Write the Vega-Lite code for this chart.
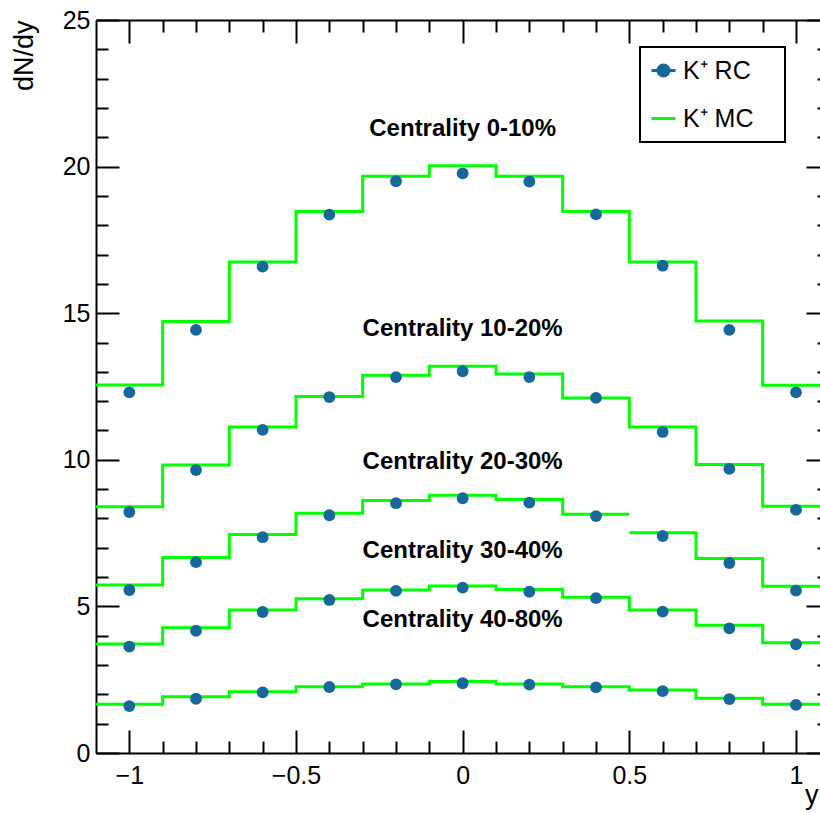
{
  "$schema": "https://vega.github.io/schema/vega-lite/v6.json",
  "width": 724,
  "height": 733,
  "autosize": {"type": "none"},
  "padding": {"left": 96, "top": 20, "right": 0, "bottom": 60},
  "background": "white",
  "config": {
    "view": {"stroke": null},
    "axis": {
      "grid": false,
      "domainColor": "black",
      "domainWidth": 2,
      "tickColor": "black",
      "tickWidth": 2,
      "labelFont": "Liberation Sans",
      "labelFontSize": 25,
      "labelColor": "black",
      "labelFlush": false,
      "titleFont": "Liberation Sans",
      "titleFontSize": 27,
      "titleFontWeight": "normal",
      "titleColor": "black"
    }
  },
  "datasets": {
    "mc": [
      {"seg": "0-10", "s": "K⁺ MC", "x": -1.1, "y": 12.55},
      {"seg": "0-10", "s": "K⁺ MC", "x": -0.9, "y": 14.72},
      {"seg": "0-10", "s": "K⁺ MC", "x": -0.7, "y": 16.75},
      {"seg": "0-10", "s": "K⁺ MC", "x": -0.5, "y": 18.47},
      {"seg": "0-10", "s": "K⁺ MC", "x": -0.3, "y": 19.67},
      {"seg": "0-10", "s": "K⁺ MC", "x": -0.1, "y": 20.03},
      {"seg": "0-10", "s": "K⁺ MC", "x": 0.1, "y": 19.67},
      {"seg": "0-10", "s": "K⁺ MC", "x": 0.3, "y": 18.47},
      {"seg": "0-10", "s": "K⁺ MC", "x": 0.5, "y": 16.75},
      {"seg": "0-10", "s": "K⁺ MC", "x": 0.7, "y": 14.73},
      {"seg": "0-10", "s": "K⁺ MC", "x": 0.9, "y": 12.54},
      {"seg": "0-10", "s": "K⁺ MC", "x": 1.1, "y": 12.54},

      {"seg": "10-20", "s": "K⁺ MC", "x": -1.1, "y": 8.40},
      {"seg": "10-20", "s": "K⁺ MC", "x": -0.9, "y": 9.82},
      {"seg": "10-20", "s": "K⁺ MC", "x": -0.7, "y": 11.12},
      {"seg": "10-20", "s": "K⁺ MC", "x": -0.5, "y": 12.16},
      {"seg": "10-20", "s": "K⁺ MC", "x": -0.3, "y": 12.88},
      {"seg": "10-20", "s": "K⁺ MC", "x": -0.1, "y": 13.19},
      {"seg": "10-20", "s": "K⁺ MC", "x": 0.1, "y": 12.93},
      {"seg": "10-20", "s": "K⁺ MC", "x": 0.3, "y": 12.11},
      {"seg": "10-20", "s": "K⁺ MC", "x": 0.5, "y": 11.12},
      {"seg": "10-20", "s": "K⁺ MC", "x": 0.7, "y": 9.84},
      {"seg": "10-20", "s": "K⁺ MC", "x": 0.9, "y": 8.42},
      {"seg": "10-20", "s": "K⁺ MC", "x": 1.1, "y": 8.42},

      {"seg": "20-30a", "s": "K⁺ MC", "x": -1.1, "y": 5.73},
      {"seg": "20-30a", "s": "K⁺ MC", "x": -0.9, "y": 6.67},
      {"seg": "20-30a", "s": "K⁺ MC", "x": -0.7, "y": 7.45},
      {"seg": "20-30a", "s": "K⁺ MC", "x": -0.5, "y": 8.18},
      {"seg": "20-30a", "s": "K⁺ MC", "x": -0.3, "y": 8.61},
      {"seg": "20-30a", "s": "K⁺ MC", "x": -0.1, "y": 8.79},
      {"seg": "20-30a", "s": "K⁺ MC", "x": 0.1, "y": 8.65},
      {"seg": "20-30a", "s": "K⁺ MC", "x": 0.3, "y": 8.14},
      {"seg": "20-30a", "s": "K⁺ MC", "x": 0.5, "y": 8.14},
      {"seg": "20-30b", "s": "K⁺ MC", "x": 0.5, "y": 7.51},
      {"seg": "20-30b", "s": "K⁺ MC", "x": 0.7, "y": 6.63},
      {"seg": "20-30b", "s": "K⁺ MC", "x": 0.9, "y": 5.69},
      {"seg": "20-30b", "s": "K⁺ MC", "x": 1.1, "y": 5.69},

      {"seg": "30-40", "s": "K⁺ MC", "x": -1.1, "y": 3.72},
      {"seg": "30-40", "s": "K⁺ MC", "x": -0.9, "y": 4.27},
      {"seg": "30-40", "s": "K⁺ MC", "x": -0.7, "y": 4.88},
      {"seg": "30-40", "s": "K⁺ MC", "x": -0.5, "y": 5.26},
      {"seg": "30-40", "s": "K⁺ MC", "x": -0.3, "y": 5.56},
      {"seg": "30-40", "s": "K⁺ MC", "x": -0.1, "y": 5.70},
      {"seg": "30-40", "s": "K⁺ MC", "x": 0.1, "y": 5.58},
      {"seg": "30-40", "s": "K⁺ MC", "x": 0.3, "y": 5.31},
      {"seg": "30-40", "s": "K⁺ MC", "x": 0.5, "y": 4.88},
      {"seg": "30-40", "s": "K⁺ MC", "x": 0.7, "y": 4.36},
      {"seg": "30-40", "s": "K⁺ MC", "x": 0.9, "y": 3.76},
      {"seg": "30-40", "s": "K⁺ MC", "x": 1.1, "y": 3.76},

      {"seg": "40-80", "s": "K⁺ MC", "x": -1.1, "y": 1.66},
      {"seg": "40-80", "s": "K⁺ MC", "x": -0.9, "y": 1.92},
      {"seg": "40-80", "s": "K⁺ MC", "x": -0.7, "y": 2.09},
      {"seg": "40-80", "s": "K⁺ MC", "x": -0.5, "y": 2.26},
      {"seg": "40-80", "s": "K⁺ MC", "x": -0.3, "y": 2.35},
      {"seg": "40-80", "s": "K⁺ MC", "x": -0.1, "y": 2.44},
      {"seg": "40-80", "s": "K⁺ MC", "x": 0.1, "y": 2.35},
      {"seg": "40-80", "s": "K⁺ MC", "x": 0.3, "y": 2.26},
      {"seg": "40-80", "s": "K⁺ MC", "x": 0.5, "y": 2.15},
      {"seg": "40-80", "s": "K⁺ MC", "x": 0.7, "y": 1.87},
      {"seg": "40-80", "s": "K⁺ MC", "x": 0.9, "y": 1.66},
      {"seg": "40-80", "s": "K⁺ MC", "x": 1.1, "y": 1.66}
    ],
    "rc": [
      {"c": "0-10", "s": "K⁺ RC", "x": -1.0, "y": 12.30},
      {"c": "0-10", "s": "K⁺ RC", "x": -0.8, "y": 14.43},
      {"c": "0-10", "s": "K⁺ RC", "x": -0.6, "y": 16.59},
      {"c": "0-10", "s": "K⁺ RC", "x": -0.4, "y": 18.36},
      {"c": "0-10", "s": "K⁺ RC", "x": -0.2, "y": 19.50},
      {"c": "0-10", "s": "K⁺ RC", "x": 0.0, "y": 19.77},
      {"c": "0-10", "s": "K⁺ RC", "x": 0.2, "y": 19.49},
      {"c": "0-10", "s": "K⁺ RC", "x": 0.4, "y": 18.37},
      {"c": "0-10", "s": "K⁺ RC", "x": 0.6, "y": 16.62},
      {"c": "0-10", "s": "K⁺ RC", "x": 0.8, "y": 14.43},
      {"c": "0-10", "s": "K⁺ RC", "x": 1.0, "y": 12.30},

      {"c": "10-20", "s": "K⁺ RC", "x": -1.0, "y": 8.22},
      {"c": "10-20", "s": "K⁺ RC", "x": -0.8, "y": 9.65},
      {"c": "10-20", "s": "K⁺ RC", "x": -0.6, "y": 11.02},
      {"c": "10-20", "s": "K⁺ RC", "x": -0.4, "y": 12.14},
      {"c": "10-20", "s": "K⁺ RC", "x": -0.2, "y": 12.82},
      {"c": "10-20", "s": "K⁺ RC", "x": 0.0, "y": 13.02},
      {"c": "10-20", "s": "K⁺ RC", "x": 0.2, "y": 12.82},
      {"c": "10-20", "s": "K⁺ RC", "x": 0.4, "y": 12.11},
      {"c": "10-20", "s": "K⁺ RC", "x": 0.6, "y": 10.95},
      {"c": "10-20", "s": "K⁺ RC", "x": 0.8, "y": 9.69},
      {"c": "10-20", "s": "K⁺ RC", "x": 1.0, "y": 8.29},

      {"c": "20-30", "s": "K⁺ RC", "x": -1.0, "y": 5.56},
      {"c": "20-30", "s": "K⁺ RC", "x": -0.8, "y": 6.51},
      {"c": "20-30", "s": "K⁺ RC", "x": -0.6, "y": 7.36},
      {"c": "20-30", "s": "K⁺ RC", "x": -0.4, "y": 8.11},
      {"c": "20-30", "s": "K⁺ RC", "x": -0.2, "y": 8.52},
      {"c": "20-30", "s": "K⁺ RC", "x": 0.0, "y": 8.69},
      {"c": "20-30", "s": "K⁺ RC", "x": 0.2, "y": 8.54},
      {"c": "20-30", "s": "K⁺ RC", "x": 0.4, "y": 8.08},
      {"c": "20-30", "s": "K⁺ RC", "x": 0.6, "y": 7.40},
      {"c": "20-30", "s": "K⁺ RC", "x": 0.8, "y": 6.48},
      {"c": "20-30", "s": "K⁺ RC", "x": 1.0, "y": 5.54},

      {"c": "30-40", "s": "K⁺ RC", "x": -1.0, "y": 3.63},
      {"c": "30-40", "s": "K⁺ RC", "x": -0.8, "y": 4.17},
      {"c": "30-40", "s": "K⁺ RC", "x": -0.6, "y": 4.81},
      {"c": "30-40", "s": "K⁺ RC", "x": -0.4, "y": 5.22},
      {"c": "30-40", "s": "K⁺ RC", "x": -0.2, "y": 5.53},
      {"c": "30-40", "s": "K⁺ RC", "x": 0.0, "y": 5.64},
      {"c": "30-40", "s": "K⁺ RC", "x": 0.2, "y": 5.50},
      {"c": "30-40", "s": "K⁺ RC", "x": 0.4, "y": 5.28},
      {"c": "30-40", "s": "K⁺ RC", "x": 0.6, "y": 4.82},
      {"c": "30-40", "s": "K⁺ RC", "x": 0.8, "y": 4.25},
      {"c": "30-40", "s": "K⁺ RC", "x": 1.0, "y": 3.71},

      {"c": "40-80", "s": "K⁺ RC", "x": -1.0, "y": 1.60},
      {"c": "40-80", "s": "K⁺ RC", "x": -0.8, "y": 1.85},
      {"c": "40-80", "s": "K⁺ RC", "x": -0.6, "y": 2.07},
      {"c": "40-80", "s": "K⁺ RC", "x": -0.4, "y": 2.25},
      {"c": "40-80", "s": "K⁺ RC", "x": -0.2, "y": 2.34},
      {"c": "40-80", "s": "K⁺ RC", "x": 0.0, "y": 2.38},
      {"c": "40-80", "s": "K⁺ RC", "x": 0.2, "y": 2.33},
      {"c": "40-80", "s": "K⁺ RC", "x": 0.4, "y": 2.24},
      {"c": "40-80", "s": "K⁺ RC", "x": 0.6, "y": 2.11},
      {"c": "40-80", "s": "K⁺ RC", "x": 0.8, "y": 1.84},
      {"c": "40-80", "s": "K⁺ RC", "x": 1.0, "y": 1.64}
    ],
    "labels": [
      {"label": "Centrality 0-10%", "x": 0, "y": 21.05},
      {"label": "Centrality 10-20%", "x": 0, "y": 14.22},
      {"label": "Centrality 20-30%", "x": 0, "y": 9.69},
      {"label": "Centrality 30-40%", "x": 0, "y": 6.65},
      {"label": "Centrality 40-80%", "x": 0, "y": 4.30}
    ]
  },
  "layer": [
    {
      "data": {"name": "mc"},
      "mark": {"type": "line", "interpolate": "step-after", "strokeWidth": 3, "clip": true},
      "encoding": {
        "x": {
          "field": "x", "type": "quantitative",
          "scale": {"domain": [-1.1, 1.072], "nice": false, "zero": false},
          "axis": {
            "orient": "bottom",
            "values": [-1.0, -0.9, -0.8, -0.7, -0.6, -0.5, -0.4, -0.3, -0.2, -0.1, 0, 0.1, 0.2, 0.3, 0.4, 0.5, 0.6, 0.7, 0.8, 0.9, 1.0],
            "format": "~g",
            "labelExpr": "abs(datum.value*2 - round(datum.value*2)) < 0.000001 ? datum.label : ''",
            "tickSize": {"condition": {"test": "abs(datum.value*2 - round(datum.value*2)) < 0.000001", "value": -23}, "value": -12},
            "labelPadding": 33,
            "title": "y",
            "titleAnchor": "end",
            "titleX": 722,
            "titleAlign": "right",
            "titleBaseline": "alphabetic",
            "titleY": 50
          }
        },
        "y": {
          "field": "y", "type": "quantitative",
          "scale": {"domain": [0, 25], "nice": false, "zero": false},
          "axis": {
            "orient": "left",
            "values": [0,1,2,3,4,5,6,7,8,9,10,11,12,13,14,15,16,17,18,19,20,21,22,23,24,25],
            "labelExpr": "datum.value % 5 == 0 ? datum.label : ''",
            "tickSize": {"condition": {"test": "datum.value % 5 == 0", "value": -23}, "value": -12},
            "labelPadding": 29,
            "title": "dN/dy",
            "titleAnchor": "end",
            "titlePadding": 24
          }
        },
        "detail": {"field": "seg"},
        "color": {
          "field": "s", "type": "nominal",
          "scale": {"domain": ["K⁺ RC", "K⁺ MC"], "range": ["#16679a", "#00ff00"]},
          "legend": {
            "title": null,
            "orient": "none",
            "legendX": 544,
            "legendY": 27,
            "strokeColor": "black",
            "fillColor": "white",
            "padding": 10,
            "rowPadding": 21,
            "symbolSize": 576,
            "symbolStrokeWidth": 3,
            "labelFont": "Liberation Sans",
            "labelFontSize": 25,
            "labelColor": "black",
            "labelOffset": 6,
            "labelExpr": "datum.label + '\u00a0\u00a0\u00a0\u200b'",
            "encode": {
              "legend": {"update": {"strokeWidth": {"value": 2}}},
              "symbols": {
                "update": {
                  "shape": {"signal": "datum.value == 'K⁺ RC' ? 'M-1,0H1M0.46,0A0.46,0.46,0,1,1,-0.46,0A0.46,0.46,0,1,1,0.46,0Z' : 'M-1,0H1'"},
                  "fill": {"signal": "datum.value == 'K⁺ RC' ? '#16679a' : 'transparent'"},
                  "stroke": {"signal": "datum.value == 'K⁺ RC' ? '#16679a' : '#00ff00'"},
                  "opacity": {"value": 1},
                  "fillOpacity": {"value": 1},
                  "strokeOpacity": {"value": 1}
                }
              }
            }
          }
        }
      }
    },
    {
      "data": {"name": "rc"},
      "mark": {"type": "point", "filled": true, "size": 140, "opacity": 1},
      "encoding": {
        "x": {
          "field": "x", "type": "quantitative",
          "axis": {
            "orient": "top",
            "values": [-1.0, -0.9, -0.8, -0.7, -0.6, -0.5, -0.4, -0.3, -0.2, -0.1, 0, 0.1, 0.2, 0.3, 0.4, 0.5, 0.6, 0.7, 0.8, 0.9, 1.0],
            "labels": false,
            "tickSize": {"condition": {"test": "abs(datum.value*2 - round(datum.value*2)) < 0.000001", "value": -23}, "value": -12},
            "title": null
          }
        },
        "y": {
          "field": "y", "type": "quantitative",
          "axis": {
            "orient": "right",
            "offset": 9,
            "values": [0,1,2,3,4,5,6,7,8,9,10,11,12,13,14,15,16,17,18,19,20,21,22,23,24,25],
            "labels": false,
            "tickSize": {"condition": {"test": "datum.value % 5 == 0", "value": -23}, "value": -12},
            "title": null
          }
        },
        "color": {"field": "s", "type": "nominal"}
      }
    },
    {
      "data": {"name": "labels"},
      "mark": {"type": "text", "font": "Liberation Sans", "fontWeight": "bold", "fontSize": 24, "align": "center", "baseline": "alphabetic", "color": "black"},
      "encoding": {
        "x": {"field": "x", "type": "quantitative", "axis": null},
        "y": {"field": "y", "type": "quantitative", "axis": null},
        "text": {"field": "label"}
      }
    }
  ],
  "resolve": {"axis": {"x": "independent", "y": "independent"}}
}
